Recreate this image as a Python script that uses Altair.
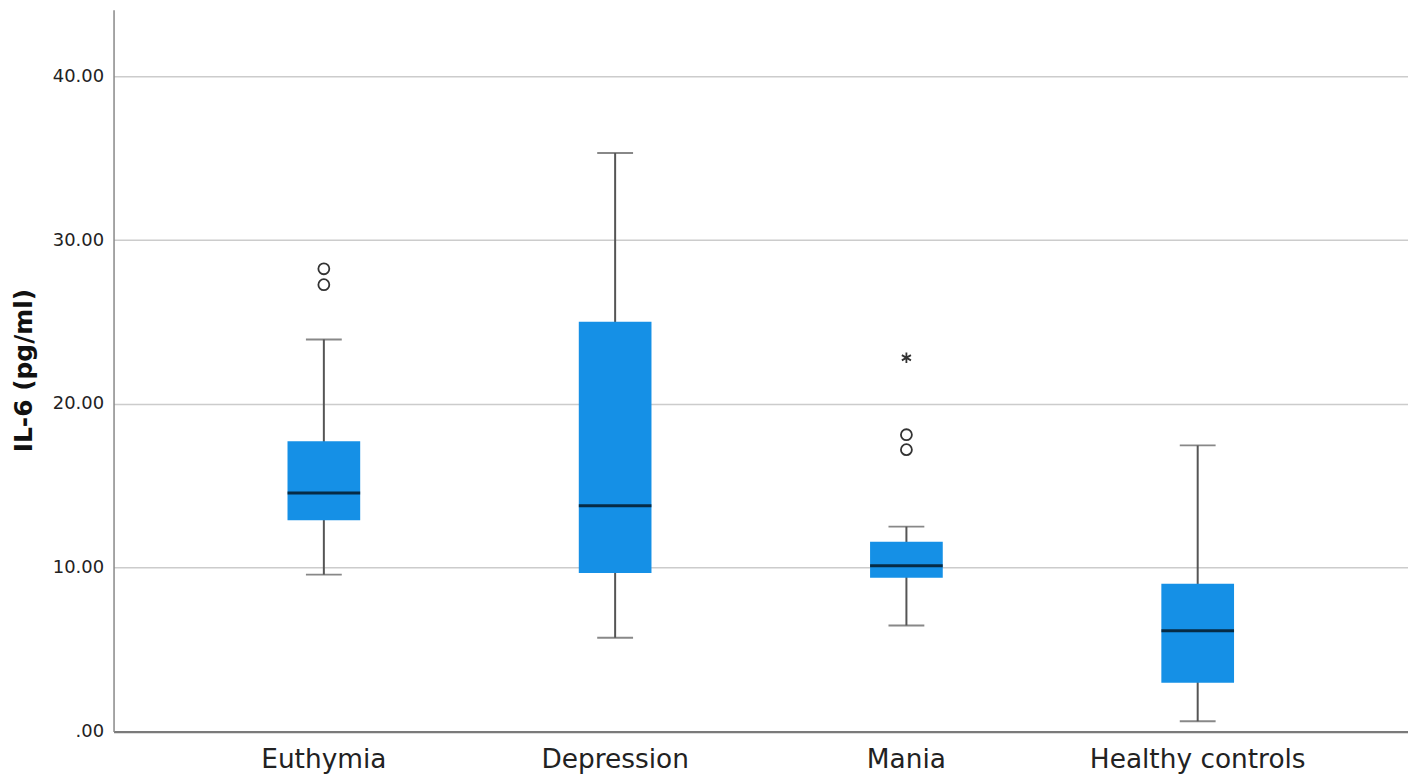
import altair as alt
import pandas as pd

groups = ["Euthymia", "Depression", "Mania", "Healthy controls"]
whisker_low = [9.58, 5.73, 6.48, 0.63]
q1 = [12.90, 9.68, 9.39, 2.98]
medians = [14.56, 13.79, 10.12, 6.15]
q3 = [17.72, 25.02, 11.58, 9.03]
whisker_high = [23.94, 35.32, 12.51, 17.47]

outlier_groups = ["Euthymia", "Euthymia", "Mania", "Mania"]
outlier_values = [28.25, 27.28, 18.12, 17.21]
extreme_groups = ["Mania"]
extreme_values = [22.82]

y_ticks = [0, 10, 20, 30, 40]

FONT = "DejaVu Sans"
BOX = "#1590e6"
WHISK = "#555555"

summary = pd.DataFrame({
    "group": groups, "lo": whisker_low, "q1": q1, "med": medians,
    "q3": q3, "hi": whisker_high,
})
caps = pd.DataFrame({
    "group": groups + groups,
    "v": whisker_low + whisker_high,
})
outliers = pd.DataFrame({"group": outlier_groups, "v": outlier_values})
extremes = pd.DataFrame({"group": extreme_groups, "v": extreme_values})

x_enc = alt.X(
    "group:N", sort=groups,
    scale=alt.Scale(paddingInner=0, paddingOuter=0.222),
    axis=alt.Axis(
        title=None, labelAngle=0, ticks=False, grid=False,
        labelFontSize=26.5, labelFont=FONT, labelColor="#222222",
        labelPadding=15, labelLimit=400,
        domainColor="#7a7a7a", domainWidth=2.2,
    ),
)

y_scale = alt.Scale(domain=[0, 44.07], nice=False, zero=True)


def y_enc(field):
    return alt.Y(
        field, type="quantitative", scale=y_scale,
        axis=alt.Axis(
            values=y_ticks,
            labelExpr="datum.value == 0 ? '.00' : format(datum.value, '.2f')",
            title="IL-6 (pg/ml)", titleFont=FONT, titleFontSize=25,
            titleFontWeight="bold", titleColor="#111111",
            titleX=-82, titleY=362, titleAngle=270, titleAlign="center",
            titleBaseline="alphabetic",
            ticks=False, labelPadding=10, labelFontSize=18, labelFont=FONT,
            labelColor="#222222", grid=True, gridColor="#cccccc",
            gridWidth=1.5, domainColor="#888888", domainWidth=1.5,
        ),
    )


whiskers = alt.Chart(summary).mark_rule(color=WHISK, strokeWidth=2).encode(
    x=x_enc, y=y_enc("lo"), y2="hi"
)
boxes = alt.Chart(summary).mark_bar(color=BOX, size=73).encode(
    x=x_enc, y=y_enc("q1"), y2="q3"
)
med = alt.Chart(summary).mark_tick(color="black", size=73, thickness=3).encode(
    x=x_enc, y=y_enc("med")
)
cap = alt.Chart(caps).mark_tick(color=WHISK, size=36, thickness=2).encode(
    x=x_enc, y=y_enc("v")
)
outl = alt.Chart(outliers).mark_point(
    shape="circle", filled=False, size=121, strokeWidth=1.8, color="#333333",
    opacity=1,
).encode(x=x_enc, y=y_enc("v"))
star_path = "M0,-1L0,1M-0.87,-0.5L0.87,0.5M-0.87,0.5L0.87,-0.5"
ext = alt.Chart(extremes).mark_point(
    shape=star_path, filled=False, size=110, strokeWidth=1.8, color="#333333",
    opacity=1,
).encode(x=x_enc, y=y_enc("v"))

chart = alt.layer(whiskers, boxes, med, cap, outl, ext).properties(
    width=1300, height=725,
    autosize=alt.AutoSizeParams(type="none"),
    padding={"left": 106, "top": 0, "right": 0, "bottom": 46},
).configure(
    background="white", view=alt.ViewConfig(stroke=None)
)

chart.save("out.html", embed_options={"renderer": "svg", "actions": False})
